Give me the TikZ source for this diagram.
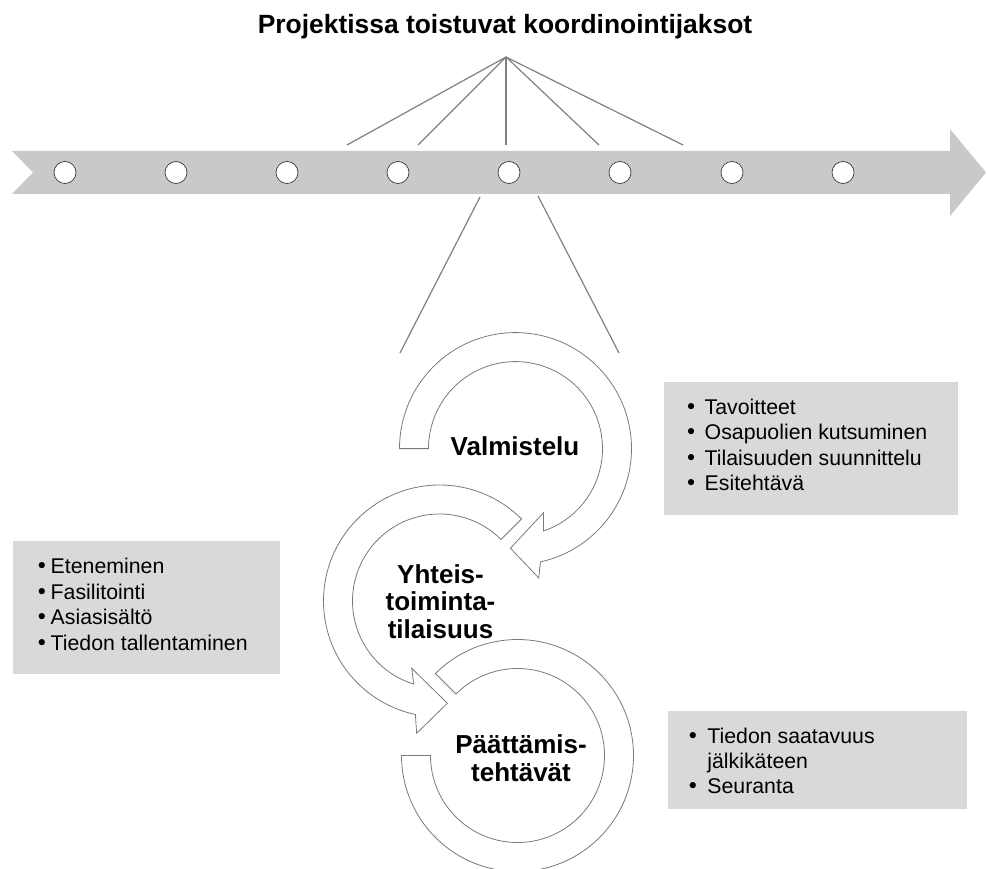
\documentclass[tikz,border=0pt]{standalone}
\usepackage{fontspec}
\setmainfont{Liberation Sans}
\newfontfamily\bulletfont{DejaVu Sans}
\usetikzlibrary{calc}

\definecolor{bandgray}{HTML}{C9C9C9}
\definecolor{boxgray}{HTML}{D9D9D9}
\definecolor{linegray}{HTML}{808080}
\definecolor{ringgray}{HTML}{7A7A7A}
\definecolor{dotedge}{HTML}{3A3A3A}

\newcommand\titlefont{\fontsize{26.4}{30}\selectfont\bfseries}
\newcommand\stagefont{\fontsize{26}{28}\selectfont\bfseries}
\newcommand\itemfont{\fontsize{21.3}{25.5}\selectfont}
% one bulleted line: bullet in a 10pt slot, then #1 of space, then the text
\newcommand\bline[2]{\makebox[10pt][c]{\bulletfont •}\hspace{#1}#2}

\begin{document}
\begin{tikzpicture}[x=1pt,y=-1pt,
  band/.style={fill=bandgray,draw=none},
  stopdot/.style={circle,draw=dotedge,fill=white,line width=0.7pt,minimum size=22pt,inner sep=0pt},
  fan/.style={draw=linegray,line width=1.2pt},
  ring/.style={draw=ringgray,fill=white,line width=0.8pt,line join=miter},
  infobox/.style={fill=boxgray,draw=none,inner sep=0pt,anchor=north west},
  stage/.style={font=\stagefont,anchor=base,inner sep=0pt},
  itemtext/.style={font=\itemfont,anchor=base west,inner sep=0pt},
]
\useasboundingbox (0,0) rectangle (987,869);

% title
\node[font=\titlefont,anchor=base,inner sep=0pt] (title) at (505,34) {Projektissa toistuvat koordinointijaksot};

% timeline arrow
\fill[band] (12,151) -- (950,151) -- (950,129) -- (986,172.5) -- (950,216)
  -- (950,194) -- (12,194) -- (33,172.5) -- cycle;
\foreach \i/\x in {1/65,2/176,3/287,4/398,5/509,6/620,7/732,8/843}
  \node[stopdot] (s\i) at (\x,172.5) {};

% fan of lines below the title
\coordinate (apex) at (506,57);
\foreach \i/\x in {1/347,2/418,3/506,4/599,5/683}{
  \coordinate (f\i) at (\x,145);
  \draw[fan] (apex) -- (f\i);
}

% lines from the timeline down to the cycle
\coordinate (la) at (480,197);
\coordinate (lb) at (400,353);
\coordinate (ra) at (538,196);
\coordinate (rb) at (619,353);
\draw[fan] (la) -- (lb);
\draw[fan] (ra) -- (rb);

% grey text boxes
\node[infobox,minimum width=294pt,minimum height=133pt] (box1) at (664,382) {};
\node[infobox,minimum width=267pt,minimum height=133pt] (box2) at (13,541) {};
\node[infobox,minimum width=299pt,minimum height=98pt] (box3) at (668,711) {};

% box 1 items
\foreach \i/\y/\t in {1/414/Tavoitteet,2/439.5/Osapuolien kutsuminen,3/465/Tilaisuuden suunnittelu,4/490.5/Esitehtävä}
  \node[itemtext] (b1t\i) at (686,\y) {\bline{8.5pt}{\t}};
% box 2 items
\foreach \i/\y/\t in {1/573.5/Eteneminen,2/599/Fasilitointi,3/624.5/Asiasisältö,4/650/Tiedon tallentaminen}
  \node[itemtext] (b2t\i) at (36.7,\y) {\bline{3.8pt}{\t}};
% box 3 items
\node[itemtext] (b3t1) at (687.7,743.3) {\bline{9.5pt}{Tiedon saatavuus}};
\node[itemtext] (b3t2) at (707.2,768.3) {jälkikäteen};
\node[itemtext] (b3t3) at (687.7,793.3) {\bline{9.5pt}{Seuranta}};

% circular arrows
\coordinate (c1) at (515.5,448.6);
\coordinate (c2) at (439.5,601);
\coordinate (c3) at (517.5,755.5);

\draw[ring] ($(c1)+(180:116)$) arc[start angle=180,end angle=437.6,radius=116]
  -- ($(c1)+(79.8:131.5)$) -- ($(c1)+(92.9:99.7)$) -- ($(c1)+(66.4:70)$)
  -- ($(c1)+(71.3:87)$) arc[start angle=431.3,end angle=180,radius=87] -- cycle;

\draw[ring] ($(c2)+(-45:116)$) arc[start angle=-45,end angle=-258,radius=116]
  -- ($(c2)+(99.8:134.2)$) -- ($(c2)+(85.6:102.6)$) -- ($(c2)+(112.4:72.8)$)
  -- ($(c2)+(107.3:87)$) arc[start angle=-252.7,end angle=-45,radius=87] -- cycle;

\draw[ring] ($(c3)+(225:116)$) arc[start angle=225,end angle=540,radius=116]
  -- ($(c3)+(180:87)$) arc[start angle=540,end angle=225,radius=87] -- cycle;

% stage labels
\node[stage] (v1) at (515,455) {Valmistelu};
\node[stage] (y1) at (440.5,583.3) {Yhteis-};
\node[stage] (y2) at (440.5,610.8) {toiminta-};
\node[stage] (y3) at (440.5,638.3) {tilaisuus};
\node[stage] (p1) at (521,753.3) {Päättämis-};
\node[stage] (p2) at (521,781.5) {tehtävät};
\end{tikzpicture}
\end{document}
